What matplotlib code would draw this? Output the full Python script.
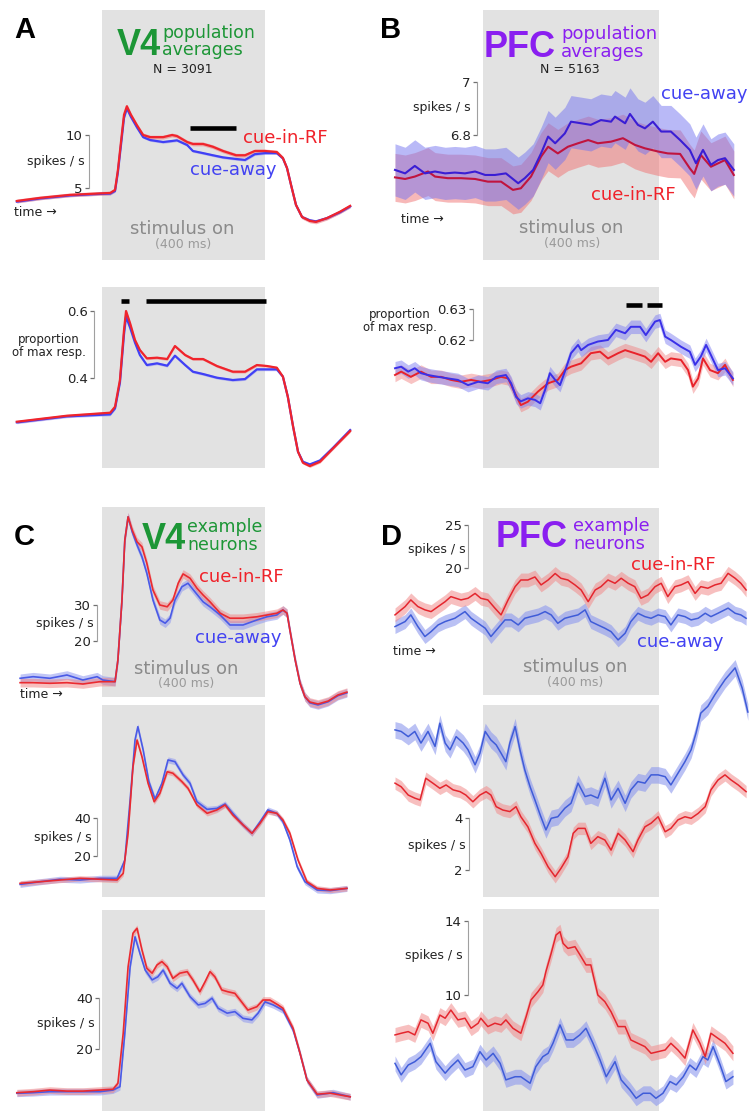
import numpy as np
import matplotlib
matplotlib.use("Agg")
import matplotlib.pyplot as plt

# ---------------- data (time in ms from stimulus onset) ----------------
# A top: V4 population averages, spikes / s
t_a1 = [-209, -152, -79, -5, 20, 32, 39, 47, 54, 61, 71, 86, 101, 118, 150, 172, 184, 209, 223, 248,
        272, 297, 329, 351, 375, 400, 429, 444, 454, 464, 476, 491, 510, 525, 552, 584, 609]
a1_rf = [3.81, 4.1, 4.38, 4.52, 4.56, 4.85, 6.7, 9.5, 11.9, 12.7, 11.9, 10.9, 10.0, 9.8, 9.8, 10.0, 9.9,
         9.34, 9.16, 9.16, 8.9, 8.5, 8.1, 8.1, 8.5, 8.5, 8.4, 7.84, 6.9, 5.3, 3.44, 2.3, 1.94, 1.85, 2.2, 2.8, 3.35]
a1_away = [3.75, 4.05, 4.33, 4.48, 4.5, 4.75, 6.5, 9.2, 11.6, 12.5, 11.7, 10.7, 9.8, 9.53, 9.34, 9.44, 9.5,
           9.06, 8.5, 8.3, 8.1, 7.9, 7.75, 7.66, 8.2, 8.3, 8.3, 7.8, 6.9, 5.3, 3.44, 2.3, 2.0, 1.9, 2.2, 2.75, 3.3]
a1_sig = [[216, 329]]
a1_sig_y = 10.66

# A bottom: V4 population, proportion of max response
t_a2 = [-209, -86, 20, 32, 44, 54, 59, 69, 81, 93, 110, 135, 160, 179, 204, 223, 248, 282, 321, 351,
        380, 405, 429, 444, 456, 469, 481, 493, 510, 535, 567, 609]
a2_rf = [0.268, 0.286, 0.295, 0.313, 0.393, 0.543, 0.60, 0.563, 0.513, 0.483, 0.458, 0.46, 0.456, 0.495,
         0.468, 0.456, 0.456, 0.435, 0.418, 0.418, 0.438, 0.435, 0.43, 0.403, 0.343, 0.253, 0.178, 0.145,
         0.135, 0.148, 0.188, 0.24]
a2_away = [0.266, 0.284, 0.290, 0.308, 0.385, 0.530, 0.583, 0.55, 0.505, 0.468, 0.438, 0.443, 0.436, 0.466,
           0.438, 0.418, 0.411, 0.40, 0.393, 0.396, 0.425, 0.425, 0.425, 0.403, 0.343, 0.253, 0.178, 0.148,
           0.14, 0.152, 0.19, 0.243]
a2_sig = [[47, 66], [108, 402]]
a2_sig_y = 0.631

# B top: PFC population averages, spikes / s
t_b1_away = [-200, -177, -155, -132, -109, -86, -64, -41, -18, 5, 27, 52, 80, 95, 114, 132, 148, 164, 186, 200,
             223, 245, 268, 291, 300, 323, 334, 352, 368, 386, 405, 427, 448, 470, 484, 500, 518, 534, 550, 570]
b1_away = [6.669, 6.656, 6.684, 6.656, 6.663, 6.656, 6.659, 6.656, 6.663, 6.650, 6.650, 6.656, 6.619, 6.638,
           6.669, 6.731, 6.794, 6.769, 6.806, 6.85, 6.844, 6.838, 6.856, 6.85, 6.869, 6.844, 6.879, 6.838,
           6.825, 6.85, 6.813, 6.813, 6.781, 6.744, 6.694, 6.744, 6.688, 6.706, 6.713, 6.669]
t_b1_rf = [-200, -177, -155, -125, -109, -80, -50, -18, 11, 41, 68, 86, 109, 132, 148, 170, 193, 216, 239,
           261, 291, 318, 345, 368, 398, 420, 448, 470, 480, 495, 518, 550, 570]
b1_rf = [6.641, 6.635, 6.644, 6.663, 6.644, 6.638, 6.638, 6.635, 6.625, 6.625, 6.594, 6.600, 6.644, 6.719,
         6.756, 6.731, 6.756, 6.769, 6.781, 6.769, 6.775, 6.788, 6.763, 6.75, 6.738, 6.731, 6.729, 6.675,
         6.654, 6.725, 6.681, 6.706, 6.650]

# B bottom: PFC population, proportion of max response
t_b2_away = [-200, -186, -170, -155, -141, -125, -102, -80, -57, -34, -11, 11, 30, 52, 64, 75, 86, 102, 118,
             130, 141, 152, 164, 175, 186, 200, 216, 223, 239, 261, 284, 302, 323, 336, 357, 370, 391, 402,
             414, 427, 450, 470, 482, 495, 507, 518, 534, 550, 568]
b2_away = [0.6108, 0.6113, 0.6097, 0.6108, 0.6092, 0.6086, 0.6080, 0.6075, 0.6070, 0.6053, 0.6064, 0.6059,
           0.6080, 0.6086, 0.6059, 0.6015, 0.6000, 0.6010, 0.6005, 0.5994, 0.6037, 0.6092, 0.6070, 0.6053,
           0.6097, 0.6157, 0.6184, 0.6167, 0.6184, 0.6195, 0.6200, 0.6233, 0.6222, 0.6243, 0.6243, 0.6216,
           0.6260, 0.6265, 0.6211, 0.6200, 0.6178, 0.6162, 0.6119, 0.6146, 0.6184, 0.6151, 0.6102, 0.6108, 0.6075]
t_b2_rf = [-200, -186, -164, -141, -118, -95, -73, -50, -27, -5, 18, 41, 57, 73, 86, 102, 125, 148, 170, 186,
           200, 223, 245, 266, 284, 307, 323, 345, 368, 382, 398, 414, 427, 450, 466, 477, 489, 500, 516, 534,
           550, 568]
b2_rf = [0.6086, 0.6097, 0.6080, 0.6097, 0.6080, 0.6080, 0.6070, 0.6064, 0.6070, 0.6064, 0.6070, 0.6080,
         0.6075, 0.6026, 0.5988, 0.5999, 0.6032, 0.6059, 0.6070, 0.6102, 0.6113, 0.6124, 0.6157, 0.6162,
         0.6140, 0.6157, 0.6167, 0.6157, 0.6146, 0.6129, 0.6157, 0.6129, 0.6140, 0.6135, 0.6102, 0.6048,
         0.6075, 0.6140, 0.6102, 0.6092, 0.6119, 0.6070]
b2_sig = [[325, 361], [372, 407]]
b2_sig_y = 0.6314

# C: V4 example neurons, spikes / s
t_c1_rf = [-201, -169, -128, -86, -47, -5, 32, 39, 49, 56, 64, 74, 86, 98, 110, 125, 142, 160, 174, 187, 199,
           216, 233, 248, 265, 290, 314, 346, 380, 405, 429, 444, 454, 461, 474, 486, 498, 510, 530, 555, 579, 601]
c1_rf = [8.24, 8.24, 8.07, 8.24, 7.87, 8.52, 8.52, 14.6, 31.4, 48.2, 54.7, 51.0, 47.7, 46.3, 41.7, 34.2, 30.0,
         29.5, 31.4, 36.1, 38.7, 37.5, 34.7, 32.8, 30.9, 27.7, 26.3, 26.3, 26.7, 27.2, 27.7, 28.6, 27.7, 23.0,
         14.6, 8.07, 4.3, 2.83, 2.27, 3.1, 4.8, 5.6]
t_c1_away = [-201, -169, -128, -86, -47, -12, 2, 32, 39, 49, 56, 64, 74, 86, 98, 110, 125, 142, 155, 167, 179,
             196, 211, 228, 248, 265, 290, 314, 346, 380, 405, 429, 444, 454, 461, 474, 486, 498, 510, 530, 555,
             579, 601]
c1_away = [9.47, 9.92, 9.47, 10.39, 8.99, 9.92, 8.99, 8.52, 14.6, 31.4, 48.2, 54.7, 50.5, 46.8, 43.5, 38.9,
           31.4, 25.8, 24.9, 26.3, 31.4, 35.1, 36.1, 33.7, 30.9, 29.5, 27.2, 24.4, 24.4, 25.8, 26.7, 27.2, 28.6,
           27.7, 23.0, 14.6, 8.07, 4.3, 2.6, 2.0, 2.9, 4.6, 5.4]

t_c2_rf = [-201, -152, -103, -54, -5, 37, 52, 64, 76, 86, 98, 113, 128, 142, 160, 174, 196, 211, 233, 258,
           282, 302, 321, 346, 368, 388, 407, 429, 444, 461, 481, 503, 528, 560, 601]
c2_rf = [5.47, 6.3, 7.2, 8.1, 7.6, 7.2, 10.7, 31.8, 66.8, 80.9, 72.1, 58.1, 48.4, 52.8, 64.2, 63.4, 59.0, 55.5,
         46.7, 42.3, 44.1, 46.7, 41.4, 36.2, 31.8, 37.1, 43.2, 42.3, 38.8, 31.8, 17.7, 6.3, 2.8, 1.95, 2.8]
t_c2_away = [-201, -152, -103, -54, -5, 37, 56, 69, 81, 88, 101, 115, 130, 147, 162, 179, 199, 216, 233, 258,
             282, 302, 321, 346, 368, 388, 407, 429, 444, 461, 479, 498, 528, 560, 601]
c2_away = [4.9, 6.3, 7.6, 7.2, 8.1, 8.1, 17.7, 49.3, 80.9, 87.9, 75.6, 59.0, 49.8, 58.1, 70.4, 69.5, 62.5,
           58.1, 48.4, 44.4, 44.9, 47.2, 42.3, 36.2, 31.8, 37.9, 44.1, 42.3, 37.9, 28.3, 14.2, 6.3, 1.95, 1.6, 2.8]

t_c3_rf = [-209, -169, -128, -86, -47, -5, 27, 39, 52, 64, 76, 86, 98, 110, 123, 135, 147, 160, 174, 191,
           209, 223, 240, 253, 265, 277, 294, 309, 326, 339, 358, 380, 395, 412, 432, 444, 469, 486, 503, 528,
           560, 584, 609]
c3_rf = [3.18, 3.57, 4.2, 3.8, 3.8, 4.2, 4.5, 6.8, 26.2, 52.0, 65.0, 66.9, 58.5, 51.4, 49.5, 52.7, 54.0, 52.0,
         47.5, 49.5, 50.1, 46.9, 42.3, 46.2, 50.1, 48.1, 43.0, 42.3, 41.7, 39.1, 35.2, 36.5, 39.1, 39.1, 37.2,
         35.9, 28.1, 18.4, 8.1, 2.6, 3.0, 2.3, 1.6]
t_c3_away = [-209, -169, -128, -86, -47, -5, 27, 44, 56, 69, 81, 93, 106, 123, 137, 150, 167, 184, 196, 216,
             236, 253, 270, 285, 307, 326, 346, 368, 383, 400, 420, 444, 469, 486, 503, 528, 567, 609]
c3_away = [2.95, 3.18, 3.57, 3.57, 3.57, 3.57, 4.2, 5.5, 26.2, 52.0, 63.6, 57.2, 50.7, 46.9, 48.1, 50.7, 45.6,
           43.6, 45.6, 40.4, 37.2, 37.8, 39.8, 35.9, 34.0, 34.6, 32.0, 31.4, 34.0, 38.4, 37.2, 35.2, 27.5, 18.4,
           8.1, 2.3, 3.2, 1.6]

# D: PFC example neurons, spikes / s
t_d1_rf = [-200, -177, -164, -148, -132, -118, -102, -86, -73, -50, -34, -18, -5, 11, 27, 41, 57, 73, 86, 102,
           118, 132, 148, 164, 177, 193, 209, 223, 239, 255, 268, 284, 300, 314, 330, 345, 359, 375, 391, 405,
           420, 436, 450, 466, 482, 495, 511, 527, 541, 557, 573, 586, 598]
d1_rf = [14.62, 15.58, 16.35, 15.58, 15.2, 15.0, 15.58, 16.15, 16.73, 16.35, 16.54, 17.1, 16.54, 16.35, 15.4,
         14.62, 16.35, 17.88, 18.65, 18.65, 19.0, 18.08, 18.65, 19.4, 18.85, 18.65, 18.08, 17.5, 16.15, 17.5,
         17.88, 18.65, 18.27, 18.85, 18.27, 17.88, 16.54, 16.93, 17.88, 18.27, 16.73, 17.88, 18.08, 18.46,
         17.1, 17.88, 17.7, 18.08, 18.27, 19.42, 18.85, 18.27, 17.5]
t_d1_away = [-200, -177, -164, -148, -132, -118, -102, -86, -64, -41, -27, -11, 5, 18, 34, 50, 64, 80, 95,
             109, 125, 141, 155, 170, 186, 200, 216, 232, 245, 261, 277, 291, 307, 323, 336, 352, 368, 382,
             398, 414, 427, 443, 459, 473, 489, 505, 518, 534, 557, 573, 586, 598]
d1_away = [13.27, 13.85, 14.62, 13.27, 12.12, 12.69, 13.46, 13.85, 14.23, 15.0, 14.23, 13.65, 13.08, 12.12,
           13.08, 14.04, 14.04, 13.46, 14.23, 14.42, 14.62, 15.0, 14.62, 13.65, 14.23, 14.42, 14.62, 15.2,
           13.85, 13.46, 13.08, 12.69, 11.73, 12.5, 13.85, 14.81, 14.42, 14.23, 14.62, 14.42, 13.46, 14.62,
           14.42, 14.04, 14.23, 14.81, 14.42, 14.81, 15.4, 14.81, 14.62, 14.23]

t_d2_away = [-200, -186, -170, -155, -141, -125, -109, -98, -86, -75, -61, -45, -34, -18, -7, 5, 18, 30, 41,
             52, 61, 73, 84, 95, 107, 118, 130, 143, 155, 170, 186, 200, 216, 232, 245, 261, 277, 291, 307,
             323, 336, 352, 368, 382, 398, 414, 427, 443, 459, 473, 484, 495, 511, 527, 550, 573, 589, 602]
d2_away = [7.42, 7.36, 7.16, 7.36, 6.91, 7.36, 6.78, 7.68, 6.91, 6.65, 7.16, 6.91, 6.65, 6.07, 6.52, 7.36,
           7.03, 6.84, 6.52, 6.19, 6.91, 7.55, 6.65, 5.87, 5.22, 4.71, 4.13, 3.55, 4.0, 4.06, 4.39, 4.58, 5.36,
           4.84, 4.9, 4.78, 5.55, 4.71, 5.16, 4.58, 5.1, 5.42, 5.36, 5.68, 5.68, 5.61, 5.29, 5.74, 6.19, 6.65,
           7.29, 8.07, 8.33, 8.78, 9.36, 9.82, 9.04, 8.11]
t_d2_rf = [-200, -186, -170, -155, -143, -130, -114, -98, -84, -68, -52, -39, -23, -7, 7, 18, 30, 45, 61, 75,
           86, 102, 118, 132, 148, 164, 177, 193, 205, 216, 232, 245, 261, 277, 291, 307, 323, 341, 352, 368,
           382, 398, 414, 427, 443, 459, 473, 489, 505, 518, 534, 550, 564, 580, 598]
d2_rf = [5.36, 5.22, 4.9, 4.78, 4.71, 5.55, 5.36, 5.16, 5.29, 5.1, 5.03, 4.9, 4.64, 4.9, 5.03, 4.9, 4.45,
         4.32, 4.26, 4.45, 4.06, 3.67, 3.03, 2.64, 2.12, 1.74, 2.06, 2.51, 3.42, 3.61, 3.61, 3.03, 3.29, 3.16,
         2.77, 3.42, 3.16, 2.71, 3.16, 3.67, 3.81, 4.06, 3.48, 3.61, 3.94, 4.06, 4.0, 4.19, 4.45, 5.1, 5.48,
         5.68, 5.48, 5.29, 5.03]

t_d3_rf = [-200, -186, -170, -155, -141, -125, -114, -98, -86, -73, -57, -41, -27, -11, -5, 11, 27, 41, 52,
           68, 86, 98, 109, 125, 136, 143, 155, 166, 175, 182, 193, 209, 223, 234, 245, 261, 277, 291, 307,
           323, 336, 352, 368, 382, 398, 414, 427, 443, 459, 477, 493, 505, 518, 534, 550, 568]
d3_rf = [7.85, 7.94, 8.03, 7.85, 8.66, 8.48, 7.94, 8.92, 8.75, 9.19, 8.66, 8.75, 8.21, 8.48, 8.75, 8.3, 8.48,
         8.39, 8.66, 8.21, 7.94, 8.83, 9.73, 10.18, 10.54, 11.26, 12.25, 13.23, 13.41, 12.78, 12.51, 12.6,
         12.06, 11.62, 11.62, 10.0, 9.64, 9.1, 8.3, 8.3, 7.58, 7.4, 7.22, 6.86, 6.95, 7.04, 7.4, 7.04, 6.6,
         8.12, 7.4, 6.68, 7.94, 7.67, 7.4, 6.86]
t_d3_away = [-200, -186, -170, -155, -141, -120, -107, -86, -73, -57, -41, -23, -7, 7, 23, 39, 52, 73, 86,
             107, 120, 136, 148, 159, 175, 189, 205, 220, 234, 250, 266, 280, 300, 314, 334, 348, 364, 380,
             393, 409, 425, 439, 455, 470, 484, 500, 511, 523, 539, 552, 568]
d3_away = [6.32, 5.7, 6.23, 6.41, 6.68, 7.4, 6.41, 5.79, 6.14, 6.5, 5.96, 6.14, 6.95, 6.5, 6.86, 6.32, 5.43,
           5.6, 5.6, 5.25, 6.14, 6.68, 6.86, 7.4, 8.39, 7.58, 7.58, 7.85, 8.21, 7.4, 6.5, 5.6, 6.41, 5.43,
           4.89, 4.44, 4.71, 4.71, 4.44, 4.71, 5.34, 5.16, 5.6, 6.23, 5.96, 6.68, 6.5, 7.22, 6.23, 5.34, 5.6]

# ---------------- layout (pixels of the 756 x 1111 figure) ----------------
W, H = 756, 1111
GRAY = "#e2e2e2"
GREEN = "#1c9636"
PURPLE = "#8a1ff0"
RED = "#f0222a"
BLUE = "#4242f2"

# column: (axes left px, axes right px, gray left px, gray right px)
COLS = {"left": (10, 360, 102, 265), "right": (385, 756, 483, 659)}

fig = plt.figure(figsize=(W / 100, H / 100), dpi=100)


def ftext(x, y, s, **kw):
    kw.setdefault("va", "baseline")
    fig.text(x / W, 1 - y / H, s, **kw)


def panel(col, box, gray, calib, bar_px, curves, lw=1.4):
    x0, x1, g0, g1 = COLS[col]
    ax = fig.add_axes([x0 / W, 1 - box[1] / H, (x1 - x0) / W, (box[1] - box[0]) / H])
    mpp = 400.0 / (g1 - g0)
    ax.set_xlim((x0 - g0) * mpp, (x1 - g0) * mpp)
    (v1, p1), (v2, p2) = calib
    k = (v1 - v2) / (p2 - p1)
    ax.set_ylim(v1 - (box[1] - p1) * k, v1 + (p1 - box[0]) * k)
    hgt = box[1] - box[0]
    ax.axvspan(0, 400, ymin=(box[1] - gray[1]) / hgt, ymax=(box[1] - gray[0]) / hgt,
               color=GRAY, lw=0, zorder=0)
    ax.patch.set_visible(False)
    for s in ["top", "right", "bottom"]:
        ax.spines[s].set_visible(False)
    ax.spines["left"].set_position(("data", (bar_px - g0) * mpp))
    ax.spines["left"].set_bounds(v2, v1)
    ax.spines["left"].set_color("#a0a0a0")
    ax.set_xticks([])
    ax.set_yticks([v2, v1])
    ax.set_yticklabels([f"{v2:g}", f"{v1:g}"])
    ax.tick_params(axis="y", length=3, width=0.9, color="#707070", pad=1.5,
                   labelsize=9.5, labelcolor="#222222")
    # bands first, then lines
    for t, y, sem, lc, bc, ba in curves:
        t = np.array(t)
        y = np.array(y)
        ax.fill_between(t, y - sem, y + sem, color=bc, alpha=ba, lw=0, zorder=2, clip_on=False)
    for t, y, sem, lc, bc, ba in curves:
        ax.plot(t, y, color=lc, lw=lw, zorder=3, clip_on=False)
    return ax


def sig_bars(ax, spans, yv):
    for s in spans:
        ax.plot(s, [yv, yv], color="black", lw=3.3, solid_capstyle="butt", zorder=4, clip_on=False)


# A top
ax = panel("left", (0, 275), (10, 260), ((10, 135), (5, 188.3)), 89,
           [(t_a1, a1_away, 0.12, "#4040f5", "#8a8af5", 0.5),
            (t_a1, a1_rf, 0.18, "#f0242c", "#f07070", 0.5)], lw=1.6)
sig_bars(ax, a1_sig, a1_sig_y)
# A bottom
ax = panel("left", (280, 480), (287, 468), ((0.6, 311), (0.4, 377.7)), 94,
           [(t_a2, a2_away, 0.004, "#4040f5", "#8a8af5", 0.5),
            (t_a2, a2_rf, 0.004, "#f0242c", "#f07070", 0.5)], lw=1.6)
sig_bars(ax, a2_sig, a2_sig_y)
# B top (wide error bands, overlapping to purple)
panel("right", (0, 275), (10, 260), ((7, 81.7), (6.8, 135)), 477,
      [(t_b1_rf, b1_rf, 0.09, "#c0143e", "#f07272", 0.5),
       (t_b1_away, b1_away, 0.098, "#3a1ed4", "#7474f0", 0.5)], lw=1.5)
# B bottom
ax = panel("right", (280, 480), (287, 468), ((0.63, 309.3), (0.62, 340)), 473,
           [(t_b2_rf, b2_rf, 0.0022, "#e8222a", "#f07a7a", 0.45),
            (t_b2_away, b2_away, 0.0022, "#3a30e8", "#8080f2", 0.5)], lw=1.4)
sig_bars(ax, b2_sig, b2_sig_y)
# C
panel("left", (500, 705), (507, 697), ((30, 605), (20, 640.7)), 97,
      [(t_c1_away, c1_away, 1.2, "#4a5ae6", "#8f98f0", 0.55),
       (t_c1_rf, c1_rf, 1.2, "#ea2a30", "#f08080", 0.5)], lw=1.2)
panel("left", (700, 905), (705, 897), ((40, 817.7), (20, 855.7)), 97,
      [(t_c2_away, c2_away, 1.6, "#4a5ae6", "#8f98f0", 0.55),
       (t_c2_rf, c2_rf, 1.4, "#ea2a30", "#f08080", 0.5)], lw=1.2)
panel("left", (905, 1111), (910, 1111), ((40, 997.7), (20, 1049.3)), 99,
      [(t_c3_away, c3_away, 1.3, "#4a5ae6", "#8f98f0", 0.55),
       (t_c3_rf, c3_rf, 1.3, "#ea2a30", "#f08080", 0.5)], lw=1.2)
# D
panel("right", (500, 705), (508, 695), ((25, 525), (20, 568.3)), 468,
      [(t_d1_away, d1_away, 0.8, "#3f5cd8", "#8c98ee", 0.6),
       (t_d1_rf, d1_rf, 0.8, "#e4262e", "#f28c8c", 0.55)], lw=1.1)
panel("right", (655, 905), (705, 897), ((4, 818.3), (2, 870)), 469,
      [(t_d2_away, d2_away, 0.32, "#3f5cd8", "#8c98ee", 0.6),
       (t_d2_rf, d2_rf, 0.24, "#e4262e", "#f28c8c", 0.55)], lw=1.1)
panel("right", (905, 1111), (909, 1111), ((14, 920.7), (10, 995)), 468,
      [(t_d3_away, d3_away, 0.4, "#3f5cd8", "#8c98ee", 0.6),
       (t_d3_rf, d3_rf, 0.4, "#e4262e", "#f28c8c", 0.55)], lw=1.1)

# ---------------- text ----------------
BOLD = dict(family="Liberation Sans", fontweight="bold")
STIM = dict(fontsize=13, color="#8a8a8a", ha="center")
MS = dict(fontsize=9, color="#9a9a9a", ha="center")
SMALL = dict(fontsize=9, color="#222222")

ftext(14, 38, "A", fontsize=21, **BOLD)
ftext(380, 38, "B", fontsize=21, **BOLD)
ftext(14, 545, "C", fontsize=21, **BOLD)
ftext(381, 545, "D", fontsize=21, **BOLD)

ftext(117, 55, "V4", fontsize=26, color=GREEN, **BOLD)
ftext(162, 38, "population", fontsize=12.5, color=GREEN)
ftext(162, 55, "averages", fontsize=12.5, color=GREEN)
ftext(183, 73, "N = 3091", ha="center", **SMALL)
ftext(484, 57, "PFC", fontsize=26, color=PURPLE, **BOLD)
ftext(561, 39, "population", fontsize=13, color=PURPLE)
ftext(561, 57, "averages", fontsize=13, color=PURPLE)
ftext(570, 73, "N = 5163", ha="center", **SMALL)
ftext(142, 549, "V4", fontsize=26, color=GREEN, **BOLD)
ftext(187, 532, "example", fontsize=12.5, color=GREEN)
ftext(187, 550, "neurons", fontsize=12.5, color=GREEN)
ftext(496, 547, "PFC", fontsize=26, color=PURPLE, **BOLD)
ftext(573, 531, "example", fontsize=12.8, color=PURPLE)
ftext(573, 549, "neurons", fontsize=12.8, color=PURPLE)

ftext(243, 143, "cue-in-RF", fontsize=13, color=RED)
ftext(190, 175, "cue-away", fontsize=13, color=BLUE)
ftext(661, 99, "cue-away", fontsize=13, color=BLUE)
ftext(591, 200, "cue-in-RF", fontsize=13, color=RED)
ftext(199, 582, "cue-in-RF", fontsize=13, color=RED)
ftext(195, 643, "cue-away", fontsize=13, color=BLUE)
ftext(631, 570, "cue-in-RF", fontsize=13, color=RED)
ftext(637, 647, "cue-away", fontsize=13, color=BLUE)

ftext(182, 234, "stimulus on", **STIM)
ftext(183, 248, "(400 ms)", **MS)
ftext(571, 233, "stimulus on", **STIM)
ftext(572, 247, "(400 ms)", **MS)
ftext(186, 674, "stimulus on", **STIM)
ftext(186, 687, "(400 ms)", **MS)
ftext(575, 672, "stimulus on", **STIM)
ftext(575, 686, "(400 ms)", **MS)

ftext(14, 216, "time →", **SMALL)
ftext(401, 223, "time →", **SMALL)
ftext(20, 698, "time →", **SMALL)
ftext(393, 655, "time →", **SMALL)

for x, y in [(85, 162), (471, 108), (94, 624), (92, 837), (95, 1023), (466, 549), (466, 845), (463, 956)]:
    ftext(x, y, "spikes / s", ha="right", va="center", **SMALL)
ftext(49, 346, "proportion\nof max resp.", ha="center", va="center", linespacing=1.0,
      fontsize=8.5, color="#222222")
ftext(400, 321, "proportion\nof max resp.", ha="center", va="center", linespacing=1.0,
      fontsize=8.5, color="#222222")

fig.savefig("out.png", dpi=100)
